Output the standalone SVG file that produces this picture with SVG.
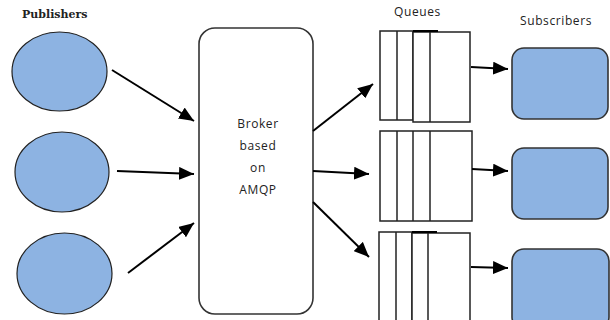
<svg xmlns="http://www.w3.org/2000/svg" width="610" height="320" viewBox="0 0 610 320">
<style>
.pub{fill:#8db3e2;stroke:#222;stroke-width:1.2}
.sub{fill:#8db3e2;stroke:#333;stroke-width:1.6}
.broker{fill:#fff;stroke:#333;stroke-width:1.6}
.q{fill:#fff;stroke:#222;stroke-width:1.5}
.div{stroke:#222;stroke-width:1.5}
.conn line{stroke:#000;stroke-width:2;marker-end:url(#arr)}
.lbl{font-family:"Open Sans","Liberation Sans",sans-serif;font-size:12px;fill:#222;letter-spacing:0.6px}
.ser{font-family:"DejaVu Serif","Liberation Serif",serif;font-size:11px;font-weight:bold;fill:#222}
</style>
<defs>
<marker id="arr" markerUnits="userSpaceOnUse" markerWidth="15" markerHeight="13" refX="15" refY="6.5" orient="auto">
<path d="M0,0 L15,6.5 L0,13 z" fill="#000"/>
</marker>
</defs>
<rect width="610" height="320" fill="#fff"/>
<text class="ser" x="22" y="18">Publishers</text>
<text class="lbl" x="394" y="16">Queues</text>
<text class="lbl" x="520" y="25">Subscribers</text>
<g id="pub1"><ellipse class="pub" cx="59.5" cy="71.5" rx="47.5" ry="39.5"/></g>
<g id="pub2"><ellipse class="pub" cx="62" cy="172" rx="47" ry="40"/></g>
<g id="pub3"><ellipse class="pub" cx="64.5" cy="273.5" rx="47.5" ry="40.5"/></g>
<g id="broker">
<rect class="broker" x="199" y="28" width="114" height="286" rx="16"/>
<text class="lbl" x="258" y="128" text-anchor="middle">Broker</text>
<text class="lbl" x="258" y="150" text-anchor="middle">based</text>
<text class="lbl" x="258" y="172" text-anchor="middle">on</text>
<text class="lbl" x="258" y="194" text-anchor="middle">AMQP</text>
</g>
<g id="queue1">
<rect class="q" x="380" y="31" width="33" height="89"/>
<line class="div" x1="397" y1="31" x2="397" y2="120"/>
<rect class="q" x="413" y="32" width="57" height="90"/>
<line class="div" x1="430" y1="32" x2="430" y2="122"/>
<line stroke="#000" stroke-width="2" x1="413" y1="31" x2="438" y2="31"/>
</g>
<g id="queue2">
<rect class="q" x="380" y="131" width="92" height="90"/>
<line class="div" x1="397" y1="131" x2="397" y2="221"/>
<line class="div" x1="413" y1="131" x2="413" y2="221"/>
<line class="div" x1="430" y1="131" x2="430" y2="221"/>
</g>
<g id="queue3">
<rect class="q" x="379" y="232" width="33" height="100"/>
<line class="div" x1="396" y1="232" x2="396" y2="332"/>
<rect class="q" x="412" y="233" width="58" height="100"/>
<line class="div" x1="428" y1="233" x2="428" y2="333"/>
<line stroke="#000" stroke-width="2" x1="412" y1="232" x2="437" y2="232"/>
</g>
<g id="sub1"><rect class="sub" x="512" y="48" width="96" height="71" rx="12"/></g>
<g id="sub2"><rect class="sub" x="512" y="148" width="96" height="71" rx="12"/></g>
<g id="sub3"><rect class="sub" x="512" y="249" width="97" height="80" rx="12"/></g>
<g id="connectors" class="conn">
<line x1="112" y1="70" x2="194" y2="121"/>
<line x1="117" y1="171" x2="194" y2="174"/>
<line x1="128" y1="273" x2="194" y2="223"/>
<line x1="313" y1="131" x2="373" y2="84"/>
<line x1="313" y1="171" x2="369" y2="174"/>
<line x1="313" y1="202" x2="369" y2="257"/>
<line x1="471" y1="67" x2="508" y2="69"/>
<line x1="472" y1="169" x2="508" y2="171"/>
<line x1="471" y1="267" x2="508" y2="268"/>
</g>
</svg>
